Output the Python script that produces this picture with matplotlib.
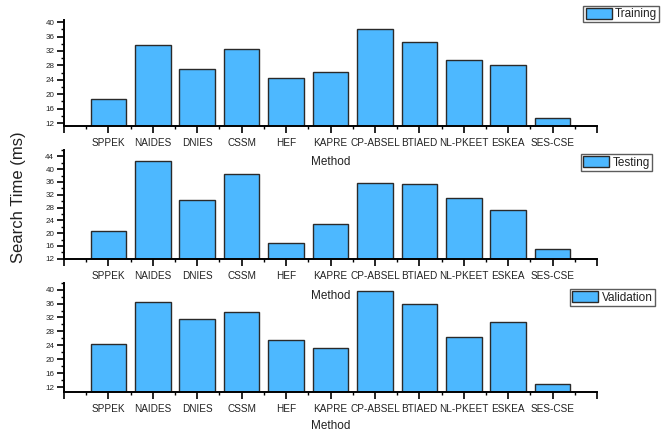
import numpy as np
import matplotlib.pyplot as plt
from matplotlib.ticker import MultipleLocator, FixedLocator

plt.rcParams['font.family'] = 'Liberation Sans'

methods = ["SPPEK", "NAIDES", "DNIES", "CSSM", "HEF", "KAPRE",
           "CP-ABSEL", "BTIAED", "NL-PKEET", "ESKEA", "SES-CSE"]

training = [18.7, 33.8, 26.9, 32.6, 24.6, 26.2, 38.2, 34.4, 29.6, 28.1, 13.4]
testing = [20.7, 42.7, 30.3, 38.6, 16.8, 23.0, 35.8, 35.5, 31.1, 27.2, 15.0]
validation = [24.4, 36.5, 31.7, 33.7, 25.5, 23.1, 39.5, 36.0, 26.3, 30.6, 12.9]

W, H = 669, 434
fig = plt.figure(figsize=(W / 100, H / 100), dpi=100)

# pixel boxes of the three panels: (top, bottom), plus legend corner
panels = [
    (training, "Training", (20, 126.3), (11.1, 40.6), (659.3, 5.7), 6),
    (testing, "Testing", (150, 258.7), (12, 46), (651.7, 154), 6.5),
    (validation, "Validation", (282.7, 392.3), (10.5, 42), (655, 289.3), 4.5),
]

left_px, right_px = 64, 597
bar_color = '#4db8ff'
text_color = '#222222'
x = np.arange(1, len(methods) + 1)

for values, name, (top, bottom), ylim, (lx, ly), lpad in panels:
    ax = fig.add_axes([left_px / W, 1 - bottom / H,
                       (right_px - left_px) / W, (bottom - top) / H])
    ax.set_facecolor('none')
    ax.bar(x, values, width=0.8, color=bar_color, edgecolor='#2a2a2a',
           linewidth=1.0, label=name)

    ax.set_xlim(0, 12)
    ax.set_ylim(*ylim)

    ax.xaxis.set_major_locator(FixedLocator(range(0, 13)))
    ax.set_xticklabels([""] + methods + [""])
    ax.xaxis.set_minor_locator(FixedLocator(np.arange(0.5, 12, 1)))
    ax.yaxis.set_major_locator(MultipleLocator(4))
    ax.yaxis.set_minor_locator(MultipleLocator(2))

    for s in ['top', 'right']:
        ax.spines[s].set_visible(False)
    for s in ['left', 'bottom']:
        ax.spines[s].set_linewidth(1.4)

    ax.tick_params(axis='x', which='major', direction='out', length=5,
                   width=1.2, pad=3.5, labelsize=7.2, labelcolor=text_color)
    ax.tick_params(axis='x', which='minor', direction='out', length=2.5,
                   width=1.0)
    ax.tick_params(axis='y', which='major', direction='out', length=5,
                   width=1.2, pad=2, labelsize=5.8, labelcolor=text_color)
    ax.tick_params(axis='y', which='minor', direction='out', length=2.5,
                   width=1.0)

    ax.set_xlabel("Method", fontsize=8.5, color=text_color, labelpad=lpad)

    leg = ax.legend(loc='upper right', bbox_to_anchor=(lx / W, 1 - ly / H),
                    bbox_transform=fig.transFigure, borderaxespad=0,
                    fontsize=8.5, frameon=True, fancybox=False,
                    handlelength=2.2, handleheight=1.05, handletextpad=0.3,
                    borderpad=0.18)
    leg.get_frame().set_edgecolor('#333333')
    leg.get_frame().set_linewidth(1.0)
    for t in leg.get_texts():
        t.set_color(text_color)

fig.text(19 / W, 1 - 196.7 / H, "Search Time (ms)", rotation=90,
         ha='center', va='center', fontsize=12, color=text_color)

fig.savefig("out.png", dpi=100)
